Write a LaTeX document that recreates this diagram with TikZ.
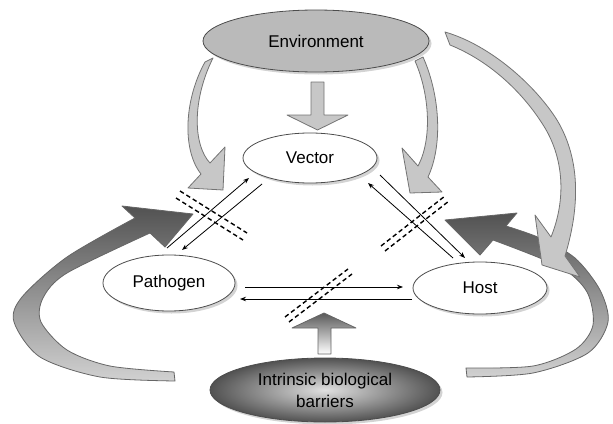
\documentclass[tikz,border=0pt]{standalone}
\usepackage{fontspec}
\setmainfont{Liberation Sans}
\usetikzlibrary{shapes.geometric,arrows.meta,shadows,calc}

\begin{document}
\begin{tikzpicture}[x=1pt,y=-1pt,
    blob/.style={ellipse,draw=black!70,line width=0.8pt,fill=white,inner sep=0pt,
      font=\fontsize{17}{22}\selectfont,
      drop shadow={shadow xshift=2.5pt,shadow yshift=-2.5pt,opacity=0.35}},
    link/.style={line width=0.8pt,-{Stealth[length=6pt,width=4.5pt]}},
    cut/.style={line width=1.4pt,dash pattern=on 4.5pt off 3pt},
    light/.style={fill=black!22,draw=black!55,line width=0.8pt,line join=round},
    dark/.style={draw=black!60,line width=0.8pt,line join=round,top color=black!68,bottom color=black!18}]

  \useasboundingbox (0,0) rectangle (613,423);

  % the four factors
  \node[blob,fill=black!27,minimum width=226pt,minimum height=62pt] (env) at (316,41) {Environment};
  \node[blob,minimum width=134pt,minimum height=50pt] (vec) at (310,158) {Vector};
  \node[blob,minimum width=132pt,minimum height=56pt] (pat) at (169,283) {Pathogen};
  \node[blob,minimum width=134pt,minimum height=52pt] (host) at (480,288) {Host};
  \node[blob,inner color=black!12,outer color=black!68,minimum width=230pt,minimum height=64pt,align=center] (barr) at (325,390) {Intrinsic biological\\barriers};

  % big loops
  \draw[dark] plot[smooth] coordinates {(135,218) (67,257) (22,297) (14,322) (40,357) (100,377) (175,381)} -- (174,372)
    -- plot[smooth] coordinates {(174,372) (110,366) (67,350) (41,322) (43,298) (67,273) (150,233)}
    -- (165,247) -- (193,214) -- (122,206) -- cycle;
  \draw[dark] plot[smooth] coordinates {(506,226) (540,238) (575,258) (600,290) (608,322) (588,353) (533,373) (467,377)} -- (466,368)
    -- plot[smooth] coordinates {(466,368) (533,366) (576,349) (593,325) (587,292) (560,267) (493,240)}
    -- (480,255) -- (445,220) -- (517,213) -- cycle;
  \draw[light] (445,32) .. controls (490,45) and (535,85) .. (557,120) .. controls (578,155) and (582,200) .. (565,256)
    -- (580,277) -- (542,265) -- (535,215) -- (551,237)
    .. controls (566,200) and (564,160) .. (545,128) .. controls (525,95) and (492,62) .. (450,45) -- cycle;

  % environment arrows
  \draw[light] (205,62) .. controls (184,100) and (182,150) .. (201,174) -- (188,188) -- (223,190) -- (225,147)
    -- (210,163) .. controls (193,145) and (192,100) .. (213,58) -- cycle;
  \draw[light] (415,61) .. controls (430,95) and (432,140) .. (418,166) -- (402,148) -- (410,193) -- (442,192)
    -- (428,177) .. controls (443,145) and (440,95) .. (423,57) -- cycle;
  \draw[light] (311,82) -- (324,82) -- (324,115) -- (348,115) -- (317.5,130) -- (287,115) -- (311,115) -- cycle;

  % barrier arrow
  \draw[draw=black!60,line width=0.8pt,line join=round,top color=black!65,bottom color=white]
    (318,354) -- (318,328) -- (292,328) -- (324,313) -- (356,328) -- (331,328) -- (331,354) -- cycle;

  % blocked routes
  \draw[cut] (176,198) -- (243,240);
  \draw[cut] (180,191) -- (247,233);
  \draw[cut] (381,246) -- (445,196);
  \draw[cut] (385,251) -- (449,201);
  \draw[cut] (285,317) -- (348,269);
  \draw[cut] (289,322) -- (352,274);

  % transmission
  \draw[link] ($(pat)+(-2,-35)$) -- ($(vec)+(-61,20)$);
  \draw[link] ($(vec)+(-48,26)$) -- ($(pat)+(13,-33)$);
  \draw[link] ($(host)+(-27,-30)$) -- ($(vec)+(58,25)$);
  \draw[link] ($(vec)+(70,17)$) -- ($(host)+(-15,-30)$);
  \draw[link] ($(pat)+(76,4)$) -- ($(host)+(-77,-1)$);
  \draw[link] ($(host)+(-68,11)$) -- ($(pat)+(71,16)$);
\end{tikzpicture}
\end{document}
